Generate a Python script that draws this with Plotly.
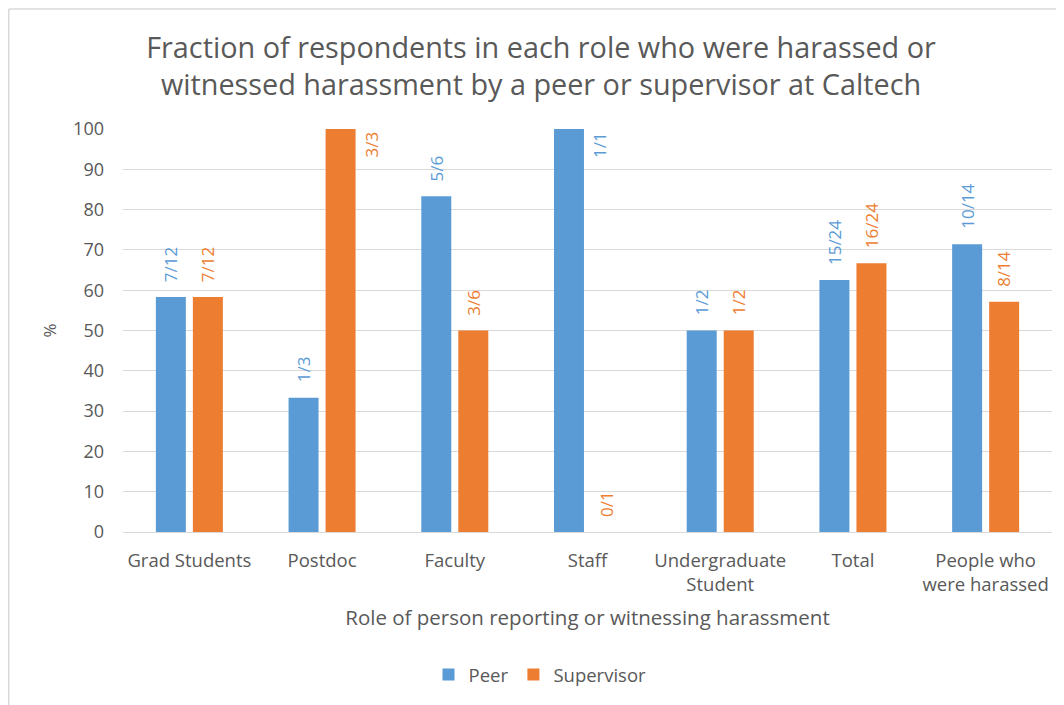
import plotly.graph_objects as go

categories = ["Grad Students", "Postdoc", "Faculty", "Staff",
              "Undergraduate<br>Student", "Total", "People who<br>were harassed"]
peer_values = [58.33, 33.33, 83.33, 100.0, 50.0, 62.5, 71.43]
supervisor_values = [58.33, 100.0, 50.0, 0.0, 50.0, 66.67, 57.14]
peer_labels = ["7/12", "1/3", "5/6", "1/1", "1/2", "15/24", "10/14"]
supervisor_labels = ["7/12", "3/3", "3/6", "0/1", "1/2", "16/24", "8/14"]
y_ticks = [0, 10, 20, 30, 40, 50, 60, 70, 80, 90, 100]

BLUE = "#5B9BD5"
ORANGE = "#ED7D31"
GRAY = "#595959"
GRID = "#D9D9D9"
FONT = "Open Sans"

W, H = 1056, 697
ML, MR, MT, MB = 115, 12, 121, 172
PW = W - ML - MR
PH = H - MT - MB
BOTTOM = H - MB


def px_x(px):
    return (px - ML) / PW


def px_y(py):
    return (BOTTOM - py) / PH


fig = go.Figure()
fig.add_trace(go.Bar(name="Peer", x=categories, y=peer_values,
                     marker=dict(color=BLUE, line=dict(width=0))))
fig.add_trace(go.Bar(name="Supervisor", x=categories, y=supervisor_values,
                     marker=dict(color=ORANGE, line=dict(width=0))))

annotations = []
for vals, labs, col, shift in [(peer_values, peer_labels, BLUE, -18.5),
                               (supervisor_values, supervisor_labels, ORANGE, 18.5)]:
    for c, v, lab in zip(categories, vals, labs):
        if v >= 100:
            annotations.append(dict(x=c, y=v, text=lab, showarrow=False, textangle=-90,
                                    xanchor="center", yanchor="top", xshift=shift + 30,
                                    yshift=-1, font=dict(family=FONT, size=17, color=col)))
        else:
            annotations.append(dict(x=c, y=v, text=lab, showarrow=False, textangle=-90,
                                    xanchor="center", yanchor="bottom", xshift=shift,
                                    yshift=13, font=dict(family=FONT, size=17, color=col)))

fig.update_layout(
    width=W, height=H,
    margin=dict(l=ML, r=MR, t=MT, b=MB),
    paper_bgcolor="white", plot_bgcolor="white",
    barmode="group", bargap=0.442, bargroupgap=0.19,
    font=dict(family=FONT, color=GRAY, size=16),
    title=dict(text="Fraction of respondents in each role who were harassed or<br>"
                    "witnessed harassment by a peer or supervisor at Caltech",
               x=533 / W, xanchor="center", y=1 - 50 / H, yanchor="middle",
               yref="container", font=dict(family=FONT, size=28.8, color=GRAY)),
    xaxis=dict(showgrid=False, showline=True, linecolor=GRID, linewidth=1,
               ticks="", tickfont=dict(size=18.5, color=GRAY), ticklabelstandoff=12,
               title=dict(text="Role of person reporting or witnessing harassment",
                          font=dict(size=20.5, color=GRAY), standoff=15)),
    yaxis=dict(range=[0, 100], tickvals=y_ticks, showgrid=True, gridcolor=GRID,
               gridwidth=1, zeroline=False, showline=False, ticks="",
               tickfont=dict(size=18, color=GRAY), ticklabelstandoff=18,
               title=dict(text="%", font=dict(size=17, color=GRAY), standoff=12)),
    legend=dict(orientation="h", x=px_x(532), xanchor="center",
                y=px_y(667), yanchor="middle",
                font=dict(size=18.5, color=GRAY), traceorder="normal",
                itemwidth=30),
    annotations=annotations,
    shapes=[
        dict(type="line", xref="paper", yref="paper",
             x0=px_x(0.75), x1=px_x(0.75), y0=px_y(0.75), y1=px_y(H + 10),
             line=dict(color=GRID, width=1.5)),
        dict(type="line", xref="paper", yref="paper",
             x0=px_x(0.75), x1=px_x(W + 10), y0=px_y(0.75), y1=px_y(0.75),
             line=dict(color=GRID, width=1.5)),
    ],
)

fig.write_html("out.html")
